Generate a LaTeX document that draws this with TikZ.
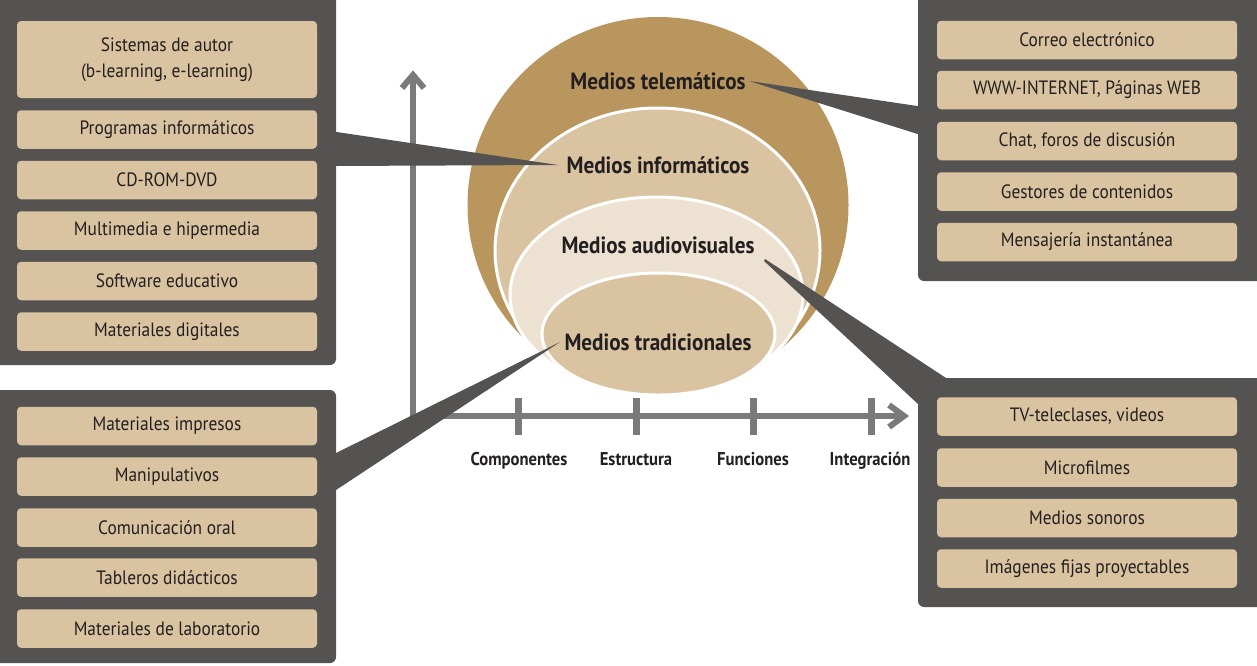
\documentclass[tikz,border=0pt]{standalone}
\usepackage{fontspec}
\setmainfont{PT Sans}[FakeStretch=0.9]
\usetikzlibrary{calc}
\definecolor{panelc}{RGB}{85,83,82}
\definecolor{tanc}{RGB}{217,195,160}
\definecolor{brownc}{RGB}{184,150,94}
\definecolor{lightc}{RGB}{237,226,210}
\definecolor{axisc}{RGB}{122,122,122}
\definecolor{textc}{RGB}{35,31,32}
\begin{document}
\begin{tikzpicture}[x=1pt,y=-1pt,
  panel/.style={fill=panelc, rounded corners=6pt},
  itembox/.style={fill=tanc, rounded corners=4pt, minimum width=300pt, minimum height=38.5pt, inner sep=0pt, align=center, text=textc, font=\fontsize{19.3}{25.5}\selectfont},
  mlabel/.style={anchor=base, inner sep=0pt, text=textc, font=\bfseries\fontsize{23.5}{26}\selectfont},
  alabel/.style={anchor=base, inner sep=0pt, text=textc, font=\bfseries\fontsize{18.5}{20}\selectfont},
  wedge/.style={fill=panelc},
  axisline/.style={draw=axisc, line width=6.5pt},
  ring/.style={draw=white, line width=3pt}
]
\useasboundingbox (0,0) rectangle (1257,665);

% panels
\fill[panel] (-10,-10) rectangle (336,365);
\fill[panel] (-10,390) rectangle (336,663);
\fill[panel] (918,-10) rectangle (1267,281);
\fill[panel] (918,378) rectangle (1267,607);

% left top boxes
\node[itembox, minimum height=77pt] (b1) at (167,59.5) {Sistemas de autor\\(b-learning, e-learning)};
\node[itembox] (b2) at (167,129.5) {Programas informáticos};
\node[itembox] (b3) at (167,180) {CD-ROM-DVD};
\node[itembox] (b4) at (167,230.5) {Multimedia e hipermedia};
\node[itembox] (b5) at (167,281) {Software educativo};
\node[itembox] (b6) at (167,331.5) {Materiales digitales};
% left bottom boxes
\node[itembox] (c1) at (167,426) {Materiales impresos};
\node[itembox] (c2) at (167,476.5) {Manipulativos};
\node[itembox] (c3) at (167,527.5) {Comunicación oral};
\node[itembox] (c4) at (167,577.5) {Tableros didácticos};
\node[itembox] (c5) at (167,628.5) {Materiales de laboratorio};
% right top boxes
\node[itembox] (d1) at (1087,40) {Correo electrónico};
\node[itembox] (d2) at (1087,90) {WWW-INTERNET, Páginas WEB};
\node[itembox] (d3) at (1087,141) {Chat, foros de discusión};
\node[itembox] (d4) at (1087,191.5) {Gestores de contenidos};
\node[itembox] (d5) at (1087,242) {Mensajería instantánea};
% right bottom boxes
\node[itembox] (e1) at (1087,416.5) {TV-teleclases, videos};
\node[itembox] (e2) at (1087,467.5) {Microfilmes};
\node[itembox] (e3) at (1087,518) {Medios sonoros};
\node[itembox] (e4) at (1087,568.5) {Imágenes fijas proyectables};

% axes
\draw[axisline, line join=miter] (413,76) -- (413,416) -- (904,416);
\draw[axisline, line width=6pt, line join=miter] (402,88) -- (413,75) -- (424,88);
\draw[axisline, line width=6pt, line join=miter] (889,405) -- (904,416) -- (889,427);
\foreach \t in {518,636,753,871} \draw[axisline, line width=7pt] (\t,398) -- (\t,435);
\node[alabel] (ax1) at (519,465) {Componentes};
\node[alabel] (ax2) at (636,465) {Estructura};
\node[alabel] (ax3) at (753,465) {Funciones};
\node[alabel] (ax4) at (870,465) {Integración};

% nested shapes
\fill[brownc] (658,205) ellipse [x radius=190.5pt, y radius=188pt];
\filldraw[fill=tanc, ring] (657.5,250.5) ellipse [x radius=162.5pt, y radius=142.5pt];
\filldraw[fill=lightc, ring] (656.5,295) ellipse [x radius=146.5pt, y radius=98pt];
\filldraw[fill=tanc, ring] (658.5,334) ellipse [x radius=116.5pt, y radius=61pt];

% labels
\node[mlabel] (tele) at (658,89) {Medios telemáticos};
\node[mlabel] (info) at (658,173) {Medios informáticos};
\node[mlabel] (audio) at (658,253) {Medios audiovisuales};
\node[mlabel] (trad) at (658,350) {Medios tradicionales};

% callout wedges
\coordinate (tinfo) at (558,165);
\coordinate (ttele) at (749,81);
\coordinate (taudio) at (765,259);
\coordinate (ttrad) at (560,342);
\fill[wedge] (tinfo) -- (330,131) -- (330,166) -- cycle;
\fill[wedge] (ttele) -- (924,107) -- (924,136) -- cycle;
\fill[wedge] (taudio) -- (946,378) -- (918,404) -- (764,261) -- cycle;
\fill[wedge] (ttrad) -- (330,456) -- (330,494) -- cycle;
\end{tikzpicture}
\end{document}
